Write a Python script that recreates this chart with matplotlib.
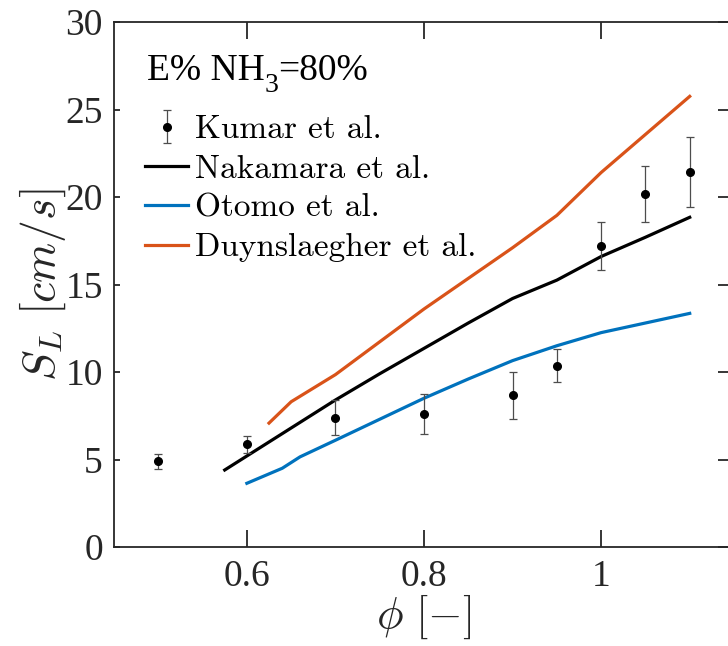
import matplotlib
matplotlib.use("Agg")
import matplotlib.pyplot as plt
from matplotlib.lines import Line2D

# ---- data ----
kumar_phi = [0.5, 0.6, 0.7, 0.8, 0.9, 0.95, 1.0, 1.05, 1.1]
kumar_sl = [4.9, 5.87, 7.4, 7.59, 8.66, 10.37, 17.2, 20.18, 21.45]
kumar_err = [0.43, 0.5, 0.98, 1.14, 1.36, 0.94, 1.38, 1.6, 2.0]

nak_phi = [0.575, 0.6, 0.65, 0.7, 0.75, 0.8, 0.85, 0.9, 0.95, 1.0, 1.05, 1.1]
nak_sl = [4.4, 5.2, 6.8, 8.4, 9.9, 11.35, 12.8, 14.2, 15.25, 16.6, 17.7, 18.84]

oto_phi = [0.6, 0.64, 0.66, 0.7, 0.75, 0.8, 0.85, 0.9, 0.95, 1.0, 1.05, 1.1]
oto_sl = [3.64, 4.5, 5.15, 6.1, 7.3, 8.5, 9.6, 10.65, 11.5, 12.25, 12.8, 13.35]

duy_phi = [0.625, 0.65, 0.7, 0.8, 0.9, 0.95, 1.0, 1.1]
duy_sl = [7.08, 8.3, 9.85, 13.6, 17.1, 18.95, 21.4, 25.75]

xticks = [0.6, 0.8, 1.0]
xticklabels = ["0.6", "0.8", "1"]
yticks = [0, 5, 10, 15, 20, 25, 30]

# ---- style ----
W, H = 728, 646
DPI = 100
axcol = "#262626"
plt.rcParams["font.family"] = ["Liberation Serif", "DejaVu Serif"]
plt.rcParams["mathtext.fontset"] = "custom"
plt.rcParams["mathtext.rm"] = "Liberation Serif"
plt.rcParams["mathtext.it"] = "Liberation Serif:italic"
plt.rcParams["axes.unicode_minus"] = False

fig = plt.figure(figsize=(W / DPI, H / DPI), dpi=DPI)
ax = fig.add_axes([114 / W, (H - 547) / H, (734 - 114) / W, (547 - 22) / H])

ax.plot(nak_phi, nak_sl, color="black", lw=2.3, label="Nakamara et al.")
ax.plot(oto_phi, oto_sl, color="#0072BD", lw=2.3, label="Otomo et al.")
ax.plot(duy_phi, duy_sl, color="#D95319", lw=2.3, label="Duynslaegher et al.")
eb = ax.errorbar(kumar_phi, kumar_sl, yerr=kumar_err, fmt="o", color="black",
                 ecolor="#4d4d4d", elinewidth=0.9, capsize=3, capthick=0.9,
                 markersize=5.5, label="Kumar et al.", zorder=5)

ax.set_xlim(0.45, 1.15)
ax.set_ylim(0, 30)
ax.set_xticks(xticks)
ax.set_xticklabels(xticklabels)
ax.set_yticks(yticks)

for s in ax.spines.values():
    s.set_color(axcol)
    s.set_linewidth(1.3)

ax.tick_params(axis="both", direction="in", top=True, right=True,
               colors=axcol, labelcolor=axcol, labelsize=27, width=1.3)
ax.tick_params(axis="x", length=12.5, pad=9)
ax.tick_params(axis="y", length=4.5, pad=8)
for t in ax.yaxis.get_major_ticks():
    t.tick2line.set_markersize(11.5)

ax.set_xlabel(r"$\phi\ [-]$", fontsize=32, math_fontfamily="cm", color=axcol, labelpad=-1)
ax.set_ylabel(r"$S_L\ [cm/s]$", fontsize=33, math_fontfamily="cm", color=axcol, labelpad=-2)

# annotation (legend title) built from pieces so the subscript sits lower/larger
fig.canvas.draw()
r = fig.canvas.get_renderer()
x0 = 147
yb = H - 80
t1 = fig.text(x0 / W, yb / H, "E% NH", fontsize=27, color="black", ha="left", va="baseline")
w1 = t1.get_window_extent(r).width
t2 = fig.text((x0 + w1) / W, (yb - 12) / H, "3", fontsize=20, color="black", ha="left", va="baseline")
w2 = t2.get_window_extent(r).width
fig.text((x0 + w1 + w2) / W, yb / H, "=80%", fontsize=27, color="black", ha="left", va="baseline")

handles = [eb,
           Line2D([], [], color="black", lw=2.3),
           Line2D([], [], color="#0072BD", lw=2.3),
           Line2D([], [], color="#D95319", lw=2.3)]
labels = ["Kumar et al.", "Nakamara et al.", "Otomo et al.", "Duynslaegher et al."]
leg = ax.legend(handles, labels, loc="upper left", bbox_to_anchor=(0.05, 0.823),
                frameon=False, prop={"family": "cmr10", "size": 24},
                handlelength=1.3, handletextpad=0.2, labelspacing=0.3,
                borderaxespad=0.0, borderpad=0.0)

fig.savefig("out.png", dpi=DPI)
